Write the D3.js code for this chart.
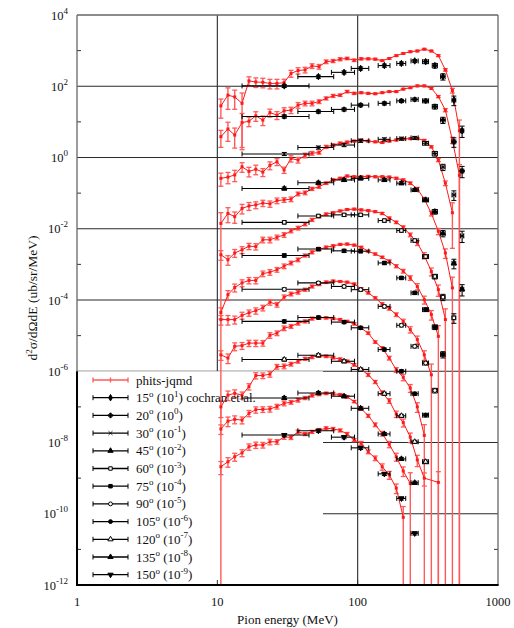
<!DOCTYPE html>
<html><head><meta charset="utf-8">
<script src="https://cdn.jsdelivr.net/npm/d3@7"></script>
<style>
body{margin:0;background:#fff}
svg{display:block}
text{font-family:"Liberation Serif","Times New Roman","DejaVu Serif",serif;fill:#111}
</style>
</head><body>
<svg id="c" width="514" height="628" font-family="Liberation Serif, Times New Roman, serif"></svg>
<script>
// ---------- DATA ----------
// phits-jqmd bin centres (MeV)
const simEnergy = [10.6,11.9,13.3,15.0,16.8,18.8,21.1,23.7,26.6,29.9,33.5,37.6,42.2,47.3,53.1,59.6,66.8,75.0,84.1,94.4,
  105.9,118.9,133.4,149.6,167.9,188.4,211.3,237.1,266.1,298.5,335.0,375.8,421.7,473.2,530.9];
// log10 of plotted d2sigma/dOmega dE (already scaled), one array per angle
const sim15 = [1.45,1.75,1.70,1.52,2.15,2.12,2.11,2.08,2.08,2.10,2.36,2.44,2.46,2.57,2.55,2.69,2.71,2.76,2.78,2.73,2.77,2.77,2.76,2.72,2.78,2.86,2.92,2.97,2.99,3.04,2.99,2.86,2.46,1.88,0.75];
const sim20 = [0.585,0.80,0.63,0.98,1.02,1.17,1.05,1.26,1.19,1.31,1.33,1.47,1.52,1.52,1.57,1.66,1.73,1.75,1.85,1.80,1.82,1.80,1.79,1.82,1.85,1.85,1.92,1.96,2.01,2.01,1.94,1.71,1.33,0.49,-0.5];
const sim30 = [-0.585,-0.55,-0.49,-0.26,-0.39,-0.33,-0.41,-0.22,-0.12,-0.35,-0.03,-0.07,0.06,0.12,0.14,0.30,0.35,0.40,0.43,0.46,0.49,0.46,0.44,0.42,0.46,0.49,0.52,0.53,0.53,0.48,0.30,-0.07,-0.72,-1.55,null];
const sim45 = [-1.85,-1.57,-1.66,-1.43,-1.36,-1.33,-1.28,-1.30,-1.21,-1.19,-1.17,-1.02,-0.99,-0.88,-0.82,-0.72,-0.63,-0.585,-0.52,-0.54,-0.54,-0.53,-0.54,-0.54,-0.55,-0.585,-0.63,-0.72,-0.88,-1.17,-1.57,-2.07,-2.68,-3.66,null];
const sim60 = [-2.73,-2.87,-2.68,-2.59,-2.49,-2.50,-2.31,-2.31,-2.24,-2.17,-2.06,-1.98,-1.87,-1.75,-1.66,-1.59,-1.55,-1.50,-1.46,-1.45,-1.47,-1.49,-1.52,-1.57,-1.70,-1.82,-1.96,-2.17,-2.40,-2.75,-3.20,-3.71,-4.55,null,null];
const sim75 = [-4.35,-3.85,-3.65,-3.52,-3.45,-3.45,-3.26,-3.22,-3.15,-3.05,-2.96,-2.87,-2.75,-2.66,-2.58,-2.52,-2.48,-2.44,-2.43,-2.46,-2.52,-2.63,-2.71,-2.80,-2.91,-3.05,-3.19,-3.38,-3.62,-3.99,-4.41,-5.02,null,null,null];
const sim90 = [-4.55,-4.55,-4.55,-4.43,-4.36,-4.30,-4.22,-4.06,-4.13,-3.92,-3.83,-3.78,-3.71,-3.62,-3.56,-3.50,-3.47,-3.48,-3.50,-3.55,-3.68,-3.80,-3.94,-4.11,-4.24,-4.41,-4.60,-4.83,-5.11,-5.54,-6.10,null,null,null,null];
const sim105 = [-5.54,-5.63,-5.30,-5.28,-5.21,-5.21,-5.21,-4.99,-4.93,-4.79,-4.74,-4.65,-4.60,-4.52,-4.50,-4.50,-4.52,-4.55,-4.60,-4.67,-4.79,-4.93,-5.18,-5.35,-5.63,-5.96,-6.17,-6.47,-7.00,-7.80,null,null,null,null,null];
const sim120 = [-7.00,-6.67,-6.62,-6.67,-6.43,-6.12,-6.12,-6.08,-5.87,-5.86,-5.80,-5.72,-5.65,-5.60,-5.57,-5.58,-5.62,-5.66,-5.72,-5.82,-5.95,-6.10,-6.30,-6.60,-6.83,-7.20,-7.44,-7.85,-8.49,-9.00,null,-9.12,null,null,null];
const sim135 = [-7.62,-7.40,-7.35,-7.37,-7.18,-7.08,-7.07,-7.06,-6.99,-6.90,-6.87,-6.81,-6.75,-6.68,-6.65,-6.62,-6.63,-6.66,-6.72,-6.85,-7.05,-7.25,-7.50,-7.75,-8.05,-8.40,-8.80,-9.15,null,null,null,null,null,null,null];
const sim150 = [-8.68,-8.54,-8.40,-8.29,-8.12,-8.07,-8.07,-7.98,-7.98,-7.84,-7.86,-7.70,-7.76,-7.70,-7.65,-7.60,-7.62,-7.66,-7.76,-7.93,-8.02,-8.26,-8.44,-8.68,-8.91,-9.28,-10.10,null,null,null,null,null,null,null,null];
// relative statistical errors of the phits-jqmd points (1 = bar reaches zero)
const err15 = [0.55,0.6,0.55,0.95,0.3,0.3,0.3,0.3,0.3,0.25,0.22,0.2,0.18,0.15,0.15,0.12,0.1,0.1,0.08,0.08,0.07,0.06,0.06,0.05,0.05,0.05,0.05,0.05,0.05,0.05,0.05,0.06,0.08,0.15,1];
const err20 = [0.5,0.55,0.57,0.8,0.3,0.3,0.3,0.25,0.25,0.22,0.2,0.18,0.15,0.15,0.12,0.1,0.1,0.08,0.08,0.07,0.06,0.06,0.05,0.05,0.05,0.05,0.05,0.05,0.05,0.05,0.06,0.07,0.1,0.2,1];
const err30 = [0.4,0.35,0.35,0.3,0.3,0.3,0.25,0.25,0.22,0.2,0.2,0.18,0.15,0.12,0.1,0.1,0.08,0.08,0.07,0.06,0.06,0.05,0.05,0.05,0.05,0.05,0.05,0.05,0.05,0.06,0.07,0.1,0.15,0.9,0];
const err45 = [1,0.45,0.35,0.3,0.25,0.22,0.2,0.2,0.18,0.15,0.15,0.12,0.12,0.1,0.1,0.08,0.08,0.07,0.06,0.06,0.06,0.06,0.06,0.06,0.06,0.07,0.07,0.08,0.1,0.12,0.15,0.2,0.3,1,0];
const err60 = [0.3,0.3,0.25,0.22,0.2,0.2,0.18,0.18,0.15,0.15,0.12,0.12,0.1,0.1,0.08,0.08,0.07,0.06,0.06,0.06,0.06,0.06,0.06,0.07,0.07,0.08,0.1,0.12,0.15,0.2,0.25,0.35,1,0,0];
const err75 = [0.35,0.3,0.25,0.22,0.2,0.2,0.18,0.18,0.15,0.15,0.12,0.12,0.1,0.1,0.08,0.08,0.07,0.06,0.06,0.06,0.06,0.06,0.07,0.07,0.08,0.1,0.12,0.15,0.2,0.25,0.3,1,0,0,0];
const err90 = [0.3,0.3,0.25,0.22,0.2,0.2,0.18,0.18,0.15,0.15,0.12,0.12,0.1,0.1,0.08,0.08,0.07,0.06,0.06,0.06,0.06,0.07,0.07,0.08,0.1,0.12,0.15,0.2,0.25,0.3,1,0,0,0,0];
const err105 = [0.3,0.3,0.25,0.22,0.2,0.2,0.18,0.18,0.15,0.15,0.12,0.12,0.1,0.1,0.08,0.08,0.07,0.07,0.07,0.07,0.07,0.08,0.08,0.1,0.12,0.15,0.2,0.25,0.3,1,0,0,0,0,0];
const err120 = [0.5,0.3,0.25,0.22,0.2,0.2,0.18,0.18,0.15,0.15,0.12,0.12,0.1,0.1,0.08,0.08,0.08,0.08,0.08,0.08,0.08,0.1,0.1,0.12,0.15,0.2,0.25,0.3,0.35,0.4,0,1,0,0,0];
const err135 = [0.3,0.3,0.25,0.22,0.2,0.2,0.18,0.18,0.15,0.15,0.12,0.12,0.1,0.1,0.08,0.08,0.08,0.08,0.08,0.08,0.1,0.1,0.12,0.15,0.2,0.25,0.3,1,0,0,0,0,0,0,0];
const err150 = [0.4,0.3,0.25,0.22,0.2,0.2,0.18,0.18,0.15,0.15,0.12,0.12,0.1,0.1,0.1,0.1,0.1,0.1,0.1,0.1,0.12,0.12,0.15,0.2,0.25,0.3,1,0,0,0,0,0,0,0,0];

// cochran et al. experimental points (MeV) and log10 of scaled values
const expEnergy = [30,52.5,80,105,155,205,255,305,355,405,485,555];
const expHalfWidth = [15,15,15,15,15,15,15,15,15,15,15,15];
const expErr = [0.1,0.1,0.1,0.1,0.1,0.1,0.1,0.12,0.15,0.2,0.3,0.35];
const exp15 = [2.01,2.27,2.39,2.50,2.58,2.64,2.71,2.69,2.58,2.27,1.61,0.75];
const exp20 = [1.15,1.29,1.35,1.47,1.52,1.59,1.63,1.59,1.43,1.05,0.44,-0.38];
const exp30 = [0.10,0.28,0.35,0.47,0.51,0.53,0.55,0.40,0.11,-0.27,-1.05,-2.20];
const exp45 = [-0.87,-0.71,-0.63,-0.585,-0.63,-0.72,-0.91,-1.19,-1.52,-2.13,-2.97,-3.70];
const exp60 = [-1.82,-1.64,-1.61,-1.61,-1.77,-2.05,-2.33,-2.78,-3.34,-3.92,-4.50,null];
const exp75 = [-2.75,-2.57,-2.62,-2.63,-2.96,-3.38,-3.80,-4.27,-4.76,-5.53,null,null];
const exp90 = [-3.70,-3.52,-3.62,-3.71,-4.18,-4.71,-5.30,-5.77,-6.54,null,null,null];
const exp105 = [-4.60,-4.49,-4.62,-4.78,-5.39,-6.00,-6.63,-7.23,null,null,null,null];
const exp120 = [-5.67,-5.55,-5.72,-5.95,-6.63,-7.25,-7.98,-8.54,null,null,null,null];
const exp135 = [-6.75,-6.61,-6.70,-7.04,-7.76,-8.46,-9.13,null,null,null,null,null];
const exp150 = [-7.79,-7.67,-7.85,-8.15,-8.88,-9.57,-10.55,null,null,null,null,null];

const angles = ["15","20","30","45","60","75","90","105","120","135","150"];
const scaleExp = ["1","0","-1","-2","-3","-4","-5","-6","-7","-8","-9"];
const yTickExp = [4,2,0,-2,-4,-6,-8,-10,-12];
const xTickVals = [1,10,100,1000];

// ---------- CHART ----------
const simList = [sim15,sim20,sim30,sim45,sim60,sim75,sim90,sim105,sim120,sim135,sim150];
const errList = [err15,err20,err30,err45,err60,err75,err90,err105,err120,err135,err150];
const expList = [exp15,exp20,exp30,exp45,exp60,exp75,exp90,exp105,exp120,exp135,exp150];
const symTypes = [d3.symbolDiamond,d3.symbolCross,d3.symbolTimes,d3.symbolTriangle,d3.symbolSquare,d3.symbolSquare,
  d3.symbolCircle,d3.symbolCircle,d3.symbolTriangle,d3.symbolTriangle,d3.symbolTriangle];
const symOpen = [false,false,false,false,true,false,true,false,true,false,false];
const symRot = [0,0,0,0,0,0,0,0,0,0,180];

const X0=77, X1=498, Y0=15, Y1=585;
const x = d3.scaleLog().domain([1,1000]).range([X0,X1]);
const y = d3.scaleLog().domain([1e-12,1e4]).range([Y1,Y0]);
const p10 = l => Math.pow(10,l);
const svg = d3.select('#c');
const FONT = 'Liberation Serif, Times New Roman, DejaVu Serif, serif';

svg.append('defs').append('clipPath').attr('id','pc')
  .append('rect').attr('x',X0).attr('y',Y0).attr('width',X1-X0).attr('height',Y1-Y0);

// grid
const gridG = svg.append('g').attr('stroke','#2a2a2a').attr('stroke-width',1.1);
gridG.selectAll('line.h').data([1e2,1,1e-2,1e-4,1e-6,1e-8,1e-10]).join('line')
  .attr('x1',X0).attr('x2',X1).attr('y1',d=>y(d)).attr('y2',d=>y(d));
gridG.selectAll('line.v').data([10,100]).join('line')
  .attr('x1',d=>x(d)).attr('x2',d=>x(d)).attr('y1',Y0).attr('y2',Y1);

// legend background (covers grid)
const LX1 = 323, LY0 = y(1e-6);
svg.append('rect').attr('x',X0).attr('y',LY0).attr('width',LX1-X0).attr('height',Y1-LY0).attr('fill','#fff');

// minor ticks (odd decades) on left and right
const minor = [3,1,-1,-3,-5,-7,-9,-11].map(p10);
svg.append('g').attr('stroke','#333').attr('stroke-width',1).selectAll('line').data(minor).join('line')
  .attr('x1',X0).attr('x2',X0+4).attr('y1',d=>y(d)).attr('y2',d=>y(d));
svg.append('g').attr('stroke','#333').attr('stroke-width',1).selectAll('line').data(minor).join('line')
  .attr('x1',X1-4).attr('x2',X1).attr('y1',d=>y(d)).attr('y2',d=>y(d));
svg.append('g').attr('stroke','#333').attr('stroke-width',1).selectAll('line').data([10,100]).join('line')
  .attr('x1',d=>x(d)).attr('x2',d=>x(d)).attr('y1',Y1).attr('y2',Y1-5);

// data layer
const dataG = svg.append('g').attr('clip-path','url(#pc)');
const RED = '#ff1a1a';

simList.forEach((s,si) => {
  const err = errList[si];
  const pts = s.map((v,i)=>({e:simEnergy[i], v: v==null?null:p10(v), r: err[i]})).filter(d=>d.v!=null);
  const g = dataG.append('g');
  pts.forEach(d=>{
    const cx = x(d.e);
    const yt = y(d.v*(1+d.r));
    const yb = d.r>=1 ? Y1+10 : y(d.v*(1-d.r));
    g.append('line').attr('x1',cx).attr('x2',cx).attr('y1',yt).attr('y2',yb)
      .attr('stroke','#ff5a5a').attr('stroke-width',1.4);
    g.append('line').attr('x1',cx-2.5).attr('x2',cx+2.5).attr('y1',yt).attr('y2',yt)
      .attr('stroke','#ff5a5a').attr('stroke-width',1.3);
    if (d.r<1) g.append('line').attr('x1',cx-2.5).attr('x2',cx+2.5).attr('y1',yb).attr('y2',yb)
      .attr('stroke','#ff5a5a').attr('stroke-width',1.3);
  });
  g.append('path').datum(pts)
    .attr('d', d3.line().x(d=>x(d.e)).y(d=>y(d.v)))
    .attr('fill','none').attr('stroke',RED).attr('stroke-width',1);
  g.selectAll('rect').data(pts).join('rect')
    .attr('x',d=>x(d.e)-1.5).attr('y',d=>y(d.v)-1.5).attr('width',3).attr('height',3).attr('fill',RED);
});

function drawSymbol(g, cx, cy, si, size){
  const path = d3.symbol().type(symTypes[si]).size(size)();
  const el = g.append('path').attr('d',path)
    .attr('transform',`translate(${cx},${cy}) rotate(${symRot[si]})`);
  if (symOpen[si]) el.attr('fill','#fff').attr('stroke','#000').attr('stroke-width',1);
  else if (symTypes[si]===d3.symbolCross || symTypes[si]===d3.symbolTimes) el.attr('fill','#000').attr('stroke','#000').attr('stroke-width',0.8);
  else el.attr('fill','#000');
}

expList.forEach((s,si) => {
  const g = dataG.append('g').attr('stroke','#000');
  s.forEach((v,i)=>{
    if (v==null) return;
    const e = expEnergy[i], V = p10(v), hw = expHalfWidth[i];
    const cx = x(e), cy = y(V), xl = x(e-hw), xr = x(e+hw);
    const yt = y(V*(1+expErr[i])), yb = y(V*(1-expErr[i]));
    g.append('line').attr('x1',xl).attr('x2',xr).attr('y1',cy).attr('y2',cy).attr('stroke-width',1.1);
    g.append('line').attr('x1',xl).attr('x2',xl).attr('y1',cy-2.5).attr('y2',cy+2.5).attr('stroke-width',1);
    g.append('line').attr('x1',xr).attr('x2',xr).attr('y1',cy-2.5).attr('y2',cy+2.5).attr('stroke-width',1);
    g.append('line').attr('x1',cx).attr('x2',cx).attr('y1',yt).attr('y2',yb).attr('stroke-width',1.1);
    g.append('line').attr('x1',cx-2.5).attr('x2',cx+2.5).attr('y1',yt).attr('y2',yt).attr('stroke-width',1);
    g.append('line').attr('x1',cx-2.5).attr('x2',cx+2.5).attr('y1',yb).attr('y2',yb).attr('stroke-width',1);
    drawSymbol(g.append('g').attr('stroke',null), cx, cy, si, 12);
  });
});

// frame
const fr = svg.append('g').attr('fill','none');
fr.append('line').attr('x1',X0).attr('x2',X1).attr('y1',Y0).attr('y2',Y0).attr('stroke','#666').attr('stroke-width',1.3);
fr.append('line').attr('x1',X1).attr('x2',X1).attr('y1',Y0).attr('y2',Y1).attr('stroke','#666').attr('stroke-width',1.3);
fr.append('line').attr('x1',X0).attr('x2',X0).attr('y1',Y0).attr('y2',LY0).attr('stroke','#666').attr('stroke-width',1.3);
fr.append('line').attr('x1',X0).attr('x2',X0).attr('y1',LY0).attr('y2',Y1).attr('stroke','#000').attr('stroke-width',2);
fr.append('line').attr('x1',X0-1).attr('x2',X1+0.6).attr('y1',Y1).attr('y2',Y1).attr('stroke','#000').attr('stroke-width',2);

// y tick labels
const FS = 12.5;
yTickExp.forEach(ex=>{
  const t = svg.append('text').attr('x',68).attr('y',y(p10(ex))+4.5).attr('text-anchor','end')
    .attr('font-size',FS).attr('font-family',FONT);
  t.append('tspan').text('10');
  t.append('tspan').attr('dy',-6).attr('font-size',9).text(String(ex));
});
// x tick labels
svg.selectAll('text.xt').data(xTickVals).join('text').attr('class','xt')
  .attr('x',d=>x(d)).attr('y',606).attr('text-anchor','middle').attr('font-size',FS).attr('font-family',FONT).text(d=>d);

// axis titles
svg.append('text').attr('x',x(Math.sqrt(1000))).attr('y',624).attr('text-anchor','middle')
  .attr('font-size',13).attr('font-family',FONT).text('Pion energy (MeV)');
const yt = svg.append('text').attr('transform','translate(37,298) rotate(-90)').attr('text-anchor','middle')
  .attr('font-size',13.5).attr('font-family',FONT);
yt.append('tspan').text('d');
yt.append('tspan').attr('dy',-5).attr('font-size',9).text('2');
yt.append('tspan').attr('dy',5).text('σ/dΩdE (ub/sr/MeV)');

// legend
const LROW0 = 380, LSTEP = 17.7, LXA = 93, LXB = 128, LTX = 136;
function supText(t, parts){
  parts.forEach(p=>{
    if (p[1]===1) t.append('tspan').attr('dy',-5.5).attr('font-size',9).text(p[0]);
    else if (p[1]===2) t.append('tspan').attr('dy',5.5).text(p[0]);
    else t.append('tspan').text(p[0]);
  });
}
{
  const ly = LROW0;
  const g = svg.append('g');
  g.append('line').attr('x1',LXA).attr('x2',LXB).attr('y1',ly).attr('y2',ly).attr('stroke','#ff5a5a').attr('stroke-width',1.6);
  [LXA,LXB,(LXA+LXB)/2].forEach(xx=>g.append('line').attr('x1',xx).attr('x2',xx).attr('y1',ly-2.5).attr('y2',ly+2.5).attr('stroke','#ff5a5a').attr('stroke-width',1.3));
  svg.append('text').attr('x',LTX).attr('y',ly+4.5).attr('font-size',FS+0.5).attr('font-family',FONT).text('phits-jqmd');
}
angles.forEach((a,i)=>{
  const ly = LROW0 + LSTEP*(i+1);
  const g = svg.append('g').attr('stroke','#000');
  g.append('line').attr('x1',LXA).attr('x2',LXB).attr('y1',ly).attr('y2',ly).attr('stroke-width',1.3);
  [LXA,LXB].forEach(xx=>g.append('line').attr('x1',xx).attr('x2',xx).attr('y1',ly-2.5).attr('y2',ly+2.5).attr('stroke-width',1));
  drawSymbol(g.append('g').attr('stroke',null), (LXA+LXB)/2, ly, i, 12);
  const t = svg.append('text').attr('x',LTX).attr('y',ly+4.5).attr('font-size',FS+0.5).attr('font-family',FONT);
  const parts = [[a,0],['o',1],[' (10',2],[scaleExp[i],1],[')',2]];
  if (i===0) parts.push([' cochran et al.',0]);
  supText(t, parts);
});
</script>
</body></html>
